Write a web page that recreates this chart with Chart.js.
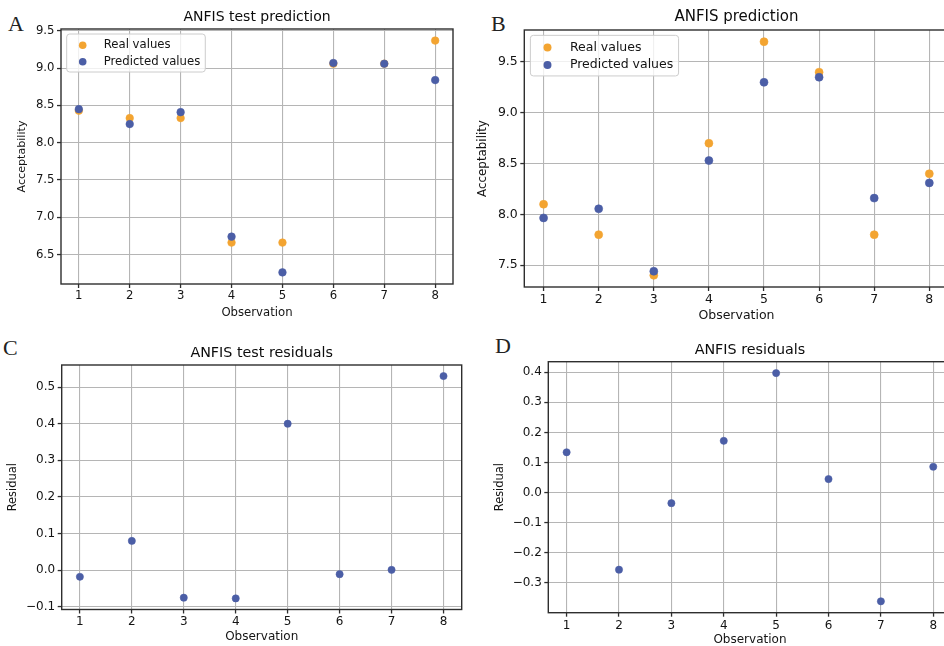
<!DOCTYPE html>
<html>
<head>
<meta charset="utf-8">
<script src="https://cdn.jsdelivr.net/npm/chart.js@4.4.1/dist/chart.umd.min.js"></script>
<style>
  html, body { margin: 0; padding: 0; width: 944px; height: 646px; overflow: hidden; background: #fff; }
  canvas { position: absolute; }
  .tag { position: absolute; font-family: "Liberation Serif", "DejaVu Serif", serif; font-size: 22px; line-height: 1; color: #222; }
</style>
</head>
<body>
<div class="tag" style="left:8px;top:13px;">A</div>
<div class="tag" style="left:491px;top:13px;">B</div>
<div class="tag" style="left:3px;top:337px;">C</div>
<div class="tag" style="left:495px;top:335px;">D</div>
<script>
// Observations on the x axis
const observations = [1, 2, 3, 4, 5, 6, 7, 8];

// Test set: real vs. predicted acceptability
const testReal      = [8.43, 8.33, 8.33, 6.66, 6.66, 9.06, 9.06, 9.37];
const testPredicted = [8.45, 8.25, 8.41, 6.74, 6.26, 9.07, 9.06, 8.84];

// Full set: real vs. predicted acceptability
const allReal      = [8.10, 7.80, 7.40, 8.70, 9.70, 9.40, 7.80, 8.40];
const allPredicted = [7.965, 8.055, 7.44, 8.53, 9.30, 9.35, 8.16, 8.31];

// Residuals
const testResiduals = [-0.018, 0.08, -0.075, -0.077, 0.40, -0.011, 0.001, 0.53];
const allResiduals  = [0.134, -0.256, -0.035, 0.172, 0.397, 0.045, -0.361, 0.086];

// Tick positions
const xTickValues = [1, 2, 3, 4, 5, 6, 7, 8];
const yTicksA = [6.5, 7.0, 7.5, 8.0, 8.5, 9.0, 9.5];
const yTicksB = [7.5, 8.0, 8.5, 9.0, 9.5];
const yTicksC = [-0.1, 0.0, 0.1, 0.2, 0.3, 0.4, 0.5];
const yTicksD = [-0.3, -0.2, -0.1, 0.0, 0.1, 0.2, 0.3, 0.4];

const FONT = '"DejaVu Sans", sans-serif';
const ORANGE = '#f3a431';
const BLUE = '#4b5ea6';
const AXIS = '#2e2e2e';
const GRID = '#b5b5b5';
const TEXT = '#141414';

function fmt(v) { return v.toFixed(1).replace('-', '\u2212'); }

// 5% margin around the data, as in a default matplotlib axes
function padRange(values) {
  const lo = Math.min(...values), hi = Math.max(...values);
  const m = (hi - lo) * 0.05;
  return [lo - m, hi + m];
}

// Title centred over the plotting area instead of the whole canvas
const centerTitle = {
  id: 'centerTitle',
  afterLayout(chart) {
    const t = chart.titleBlock;
    if (t) { t.left = chart.chartArea.left; t.right = chart.chartArea.right; t.width = t.right - t.left; }
  }
};

// Full box around the plotting area
const frame = {
  id: 'frame',
  afterDatasetsDraw(chart) {
    const a = chart.chartArea, ctx = chart.ctx;
    ctx.save();
    ctx.strokeStyle = AXIS;
    ctx.lineWidth = 1.4;
    ctx.strokeRect(a.left, a.top, a.right - a.left, a.bottom - a.top);
    ctx.restore();
  }
};

// Framed legend in the upper-left corner of the plotting area
const boxLegend = {
  id: 'boxLegend',
  afterDatasetsDraw(chart, args, opts) {
    if (!opts || !opts.show) return;
    const ctx = chart.ctx, a = chart.chartArea, s = opts.scale;
    const items = chart.data.datasets;
    ctx.save();
    ctx.font = opts.size + 'px ' + FONT;
    const textW = Math.max(...items.map(d => ctx.measureText(d.label).width));
    const x0 = a.left + 5.7 * s, y0 = a.top + 5 * s;
    const w = 37 * s + textW + 5 * s, h = 38 * s;
    ctx.beginPath();
    ctx.roundRect(x0, y0, w, h, 3);
    ctx.fillStyle = 'rgba(255,255,255,0.8)';
    ctx.fill();
    ctx.strokeStyle = '#cccccc';
    ctx.lineWidth = 1;
    ctx.stroke();
    items.forEach((d, i) => {
      const cy = y0 + 11.3 * s + i * 16.4 * s;
      ctx.beginPath();
      ctx.arc(x0 + 16 * s, cy, opts.r, 0, Math.PI * 2);
      ctx.fillStyle = d.backgroundColor;
      ctx.fill();
      ctx.fillStyle = TEXT;
      ctx.textBaseline = 'middle';
      ctx.textAlign = 'left';
      ctx.fillText(d.label, x0 + 37 * s, cy);
    });
    ctx.restore();
  }
};

function panel(p) {
  const c = document.createElement('canvas');
  c.width = p.w; c.height = p.h;
  c.style.left = p.x + 'px'; c.style.top = p.y + 'px';
  document.body.appendChild(c);

  const allY = [].concat(...p.series.map(s => s.values));
  const [yMin, yMax] = padRange(allY);
  const [xMin, xMax] = padRange(observations);
  const tickFont = { family: FONT, size: p.fs, lineHeight: 1.2 };
  const n = p.series.length;

  new Chart(c, {
    type: 'scatter',
    data: {
      datasets: p.series.map((s, i) => ({
        label: s.label,
        data: observations.map((o, k) => ({ x: o, y: s.values[k] })),
        backgroundColor: s.color,
        borderColor: s.color,
        borderWidth: 0.6,
        pointRadius: p.r,
        pointHoverRadius: p.r,
        order: n - i
      }))
    },
    options: {
      responsive: false,
      animation: false,
      events: [],
      layout: { padding: { left: 0, top: 0, right: p.padR, bottom: 0 } },
      plugins: {
        legend: { display: false },
        tooltip: { enabled: false },
        title: {
          display: true, text: p.title, color: '#0c0c0c',
          font: { family: FONT, size: p.ts, weight: 'normal', lineHeight: '16px' },
          padding: { top: p.titleTop, bottom: p.titleBottom }
        },
        boxLegend: { show: p.legend, scale: p.fs / 11.7, size: p.fs, r: p.r }
      },
      scales: {
        x: {
          type: 'linear', position: 'bottom', min: xMin, max: xMax,
          afterBuildTicks: sc => { sc.ticks = xTickValues.map(v => ({ value: v })); },
          afterFit: sc => { sc.height = p.xH; },
          ticks: { font: tickFont, color: TEXT, padding: p.xTickPad, autoSkip: false, maxRotation: 0, callback: v => String(v) },
          grid: { color: GRID, lineWidth: 1.1, tickLength: 4, tickColor: AXIS, tickWidth: 1.3 },
          border: { display: false },
          title: { display: true, text: 'Observation', color: TEXT, font: { family: FONT, size: p.fs, lineHeight: 1.2 }, padding: { top: 0, bottom: p.xTitlePad } }
        },
        y: {
          type: 'linear', position: 'left', min: yMin, max: yMax,
          afterBuildTicks: sc => { sc.ticks = p.yTicks.map(v => ({ value: v })); },
          afterFit: sc => { sc.width = p.yW; },
          ticks: { font: tickFont, color: TEXT, padding: 2.5, autoSkip: false, callback: v => fmt(v) },
          grid: { color: GRID, lineWidth: 1.1, tickLength: 4, tickColor: AXIS, tickWidth: 1.3 },
          border: { display: false },
          title: { display: true, text: p.yLabel, color: TEXT, font: { family: FONT, size: p.fs * 0.95, lineHeight: 1.2 }, padding: { top: p.yTitlePad, bottom: 0 } }
        }
      }
    },
    plugins: [centerTitle, frame, boxLegend]
  });
}

panel({
  x: 0, y: 0, w: 470, h: 330, padR: 17, yW: 61, xH: 46,
  title: 'ANFIS test prediction', ts: 14, titleTop: 9, titleBottom: 4,
  fs: 11.7, xTickPad: 1, xTitlePad: 10, yTitlePad: 15, r: 3.8,
  yLabel: 'Acceptability', yTicks: yTicksA, legend: true,
  series: [
    { label: 'Real values', values: testReal, color: ORANGE },
    { label: 'Predicted values', values: testPredicted, color: BLUE }
  ]
});

panel({
  x: 470, y: 0, w: 490, h: 330, padR: 11.4, yW: 54.3, xH: 43,
  title: 'ANFIS prediction', ts: 15, titleTop: 9.3, titleBottom: 4.7,
  fs: 12.5, xTickPad: 1.5, xTitlePad: 7, yTitlePad: 5.7, r: 4,
  yLabel: 'Acceptability', yTicks: yTicksB, legend: true,
  series: [
    { label: 'Real values', values: allReal, color: ORANGE },
    { label: 'Predicted values', values: allPredicted, color: BLUE }
  ]
});

panel({
  x: 0, y: 320, w: 470, h: 326, padR: 8.3, yW: 61.7, xH: 36.5,
  title: 'ANFIS test residuals', ts: 14.3, titleTop: 25, titleBottom: 4,
  fs: 12, xTickPad: 1.3, xTitlePad: 1.6, yTitlePad: 6.1, r: 3.6,
  yLabel: 'Residual', yTicks: yTicksC, legend: false,
  series: [ { label: 'Residual', values: testResiduals, color: BLUE } ]
});

panel({
  x: 470, y: 320, w: 490, h: 336, padR: 8.4, yW: 78.3, xH: 43.3,
  title: 'ANFIS residuals', ts: 14.3, titleTop: 22.7, titleBottom: 3,
  fs: 12, xTickPad: 1.6, xTitlePad: 8.8, yTitlePad: 22.8, r: 3.6,
  yLabel: 'Residual', yTicks: yTicksD, legend: false,
  series: [ { label: 'Residual', values: allResiduals, color: BLUE } ]
});
</script>
</body>
</html>
